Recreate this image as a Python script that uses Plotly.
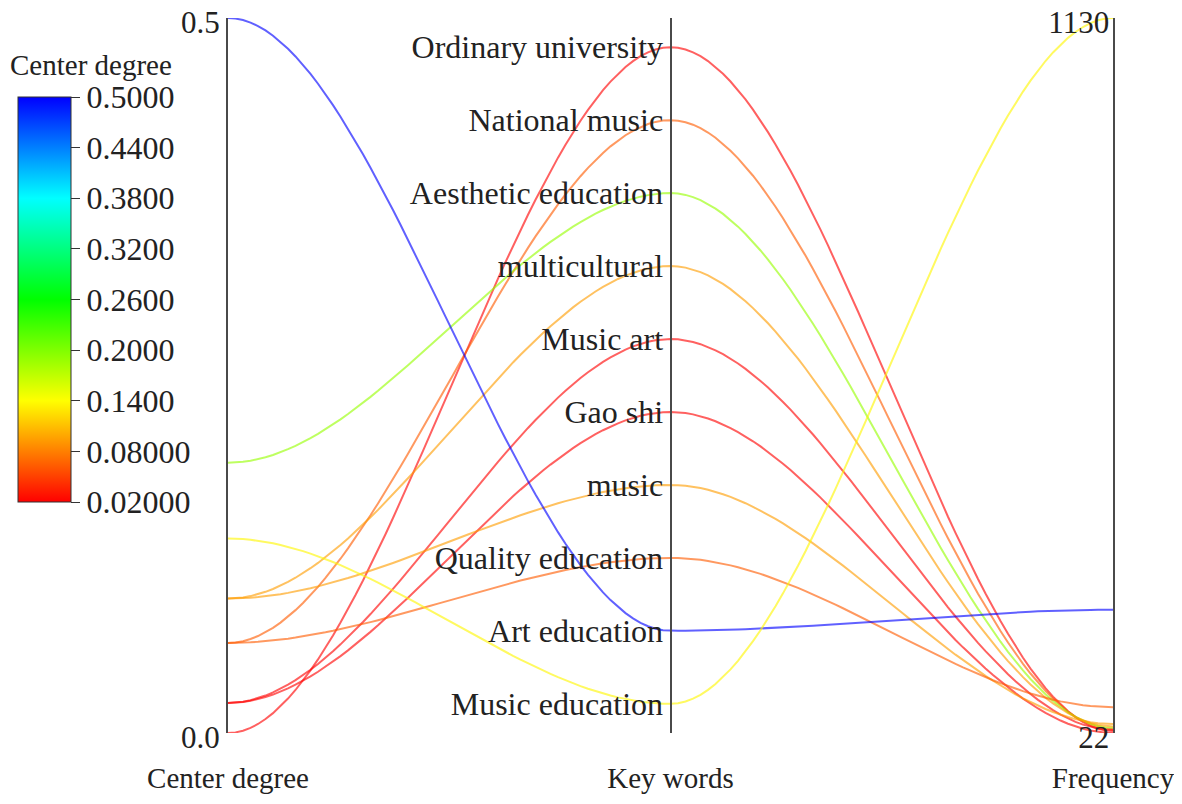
import numpy as np
import plotly.graph_objects as go
from plotly.colors import sample_colorscale

# ---------------- data ----------------
keywords = ["Ordinary university", "National music", "Aesthetic education", "multicultural",
            "Music art", "Gao shi", "music", "Quality education", "Art education", "Music education"]
center_degree = [0.0, 0.063, 0.189, 0.094, 0.021, 0.021, 0.094, 0.063, 0.5, 0.136]
frequency = [25, 28, 30, 32, 27, 22, 36, 62, 213, 1130]
axis_titles = ["Center degree", "Key words", "Frequency"]
cbar_vals = [0.02, 0.08, 0.14, 0.20, 0.26, 0.32, 0.38, 0.44, 0.50]
cbar_text = ["0.02000", "0.08000", "0.1400", "0.2000", "0.2600", "0.3200", "0.3800", "0.4400", "0.5000"]

# ---------------- style ----------------
FONT = "Liberation Serif, Times New Roman, serif"
AX = "#4a4a4a"
colorscale = [[0.0, "rgb(255,0,0)"], [0.25, "rgb(255,255,0)"], [0.5, "rgb(0,255,0)"],
              [0.75, "rgb(0,255,255)"], [1.0, "rgb(0,0,255)"]]
cmin, cmax = 0.02, 0.5

W, H = 1166, 788                      # page adds an 8px body margin on every side
L, R, T, B = 220, 61, 10, 63
PW, PH = W - L - R, H - T - B

cd_range = [0, 0.5]
kw_pos = list(range(len(keywords) - 1, -1, -1))   # top keyword -> highest position
kw_range = [-0.4, len(keywords) - 1 + 0.4]
fr_range = [22, 1130]


def frac(v, rng):
    return (v - rng[0]) / (rng[1] - rng[0])


def smooth_segment(x0, y0, x1, y1, n=60):
    t = np.linspace(0, 1, n)
    s = 3 * t ** 2 - 2 * t ** 3
    return x0 + (x1 - x0) * t, y0 + (y1 - y0) * s


fig = go.Figure()

# curves connecting the three axes (drawn on a normalized hidden axis)
for i, name in enumerate(keywords):
    ys = [frac(center_degree[i], cd_range), frac(kw_pos[i], kw_range), frac(frequency[i], fr_range)]
    xa, ya = smooth_segment(0, ys[0], 1, ys[1])
    xb, yb = smooth_segment(1, ys[1], 2, ys[2])
    xs = np.concatenate([xa, xb[1:]])
    yy = np.concatenate([ya, yb[1:]])
    c = sample_colorscale(colorscale, [min(max(frac(center_degree[i], [cmin, cmax]), 0), 1)])[0]
    fig.add_trace(go.Scatter(x=xs, y=yy, mode="lines", yaxis="y4",
                             line=dict(color=c, width=2), opacity=0.62,
                             name=name, hoverinfo="name", showlegend=False))

# data points on each axis (invisible) - they also carry the colour bar
fig.add_trace(go.Scatter(
    x=[0] * len(keywords), y=center_degree, mode="markers", yaxis="y",
    marker=dict(color=center_degree, colorscale=colorscale, cmin=cmin, cmax=cmax, size=6, opacity=0,
                showscale=True,
                colorbar=dict(xref="paper", yref="paper", x=(10 - L) / PW, xanchor="left",
                              y=(PH + T - 89) / PH, yanchor="top", len=405, lenmode="pixels",
                              thickness=53, thicknessmode="pixels", xpad=0, ypad=0,
                              outlinewidth=1, outlinecolor="#333",
                              tickvals=cbar_vals, ticktext=cbar_text, ticks="outside",
                              ticklen=9, tickwidth=1, tickcolor="#333",
                              tickfont=dict(family=FONT, size=32, color="#222"))),
    text=keywords, hoverinfo="text+y", showlegend=False))
fig.add_trace(go.Scatter(x=[1] * len(keywords), y=kw_pos, mode="markers", yaxis="y3",
                         marker=dict(opacity=0), text=keywords, hoverinfo="text", showlegend=False))
fig.add_trace(go.Scatter(x=[2] * len(keywords), y=frequency, mode="markers", yaxis="y2",
                         marker=dict(opacity=0), text=keywords, hoverinfo="text+y", showlegend=False))

tickfont = dict(family=FONT, size=32, color="#222")
endfont = dict(family=FONT, size=31, color="#222")
common = dict(showgrid=False, zeroline=False, showline=True, linecolor=AX, linewidth=2,
              fixedrange=True, ticklabeloverflow="allow")

fig.update_layout(
    width=W, height=H,
    paper_bgcolor="white", plot_bgcolor="white",
    margin=dict(l=L, r=R, t=T, b=B, autoexpand=False),
    font=dict(family=FONT, color="#222"),
    xaxis=dict(range=[0, 2], tickvals=[0, 1, 2], ticktext=axis_titles, showgrid=False,
               zeroline=False, showline=False, ticks="", tickfont=dict(family=FONT, size=29, color="#222"),
               ticklabelstandoff=25, ticklabeloverflow="allow", fixedrange=True),
    yaxis=dict(range=cd_range, tickvals=[0, 0.5], ticktext=["0.0", "0.5"], side="left",
               anchor="x", ticks="", ticklabelstandoff=0, ticklabelshift=4, tickfont=endfont, **common),
    yaxis2=dict(range=fr_range, tickvals=fr_range, ticktext=[str(v) for v in fr_range],
                overlaying="y", side="right", anchor="x", ticklabelposition="inside",
                ticks="inside", ticklen=7, tickcolor="rgba(0,0,0,0)", ticklabelshift=4,
                tickfont=endfont, **common),
    yaxis3=dict(range=kw_range, tickvals=kw_pos, ticktext=keywords, overlaying="y",
                anchor="free", position=0.5, side="left", ticks="", ticklabelstandoff=0,
                tickfont=tickfont, **common),
    yaxis4=dict(range=[0, 1], overlaying="y", visible=False, fixedrange=True),
    annotations=[dict(text="Center degree", xref="paper", yref="paper",
                      x=(0 - L) / PW, y=(PH + T - 57) / PH, xanchor="left", yanchor="middle",
                      showarrow=False, font=dict(family=FONT, size=29, color="#222"))],
)

fig.write_html("out.html")
